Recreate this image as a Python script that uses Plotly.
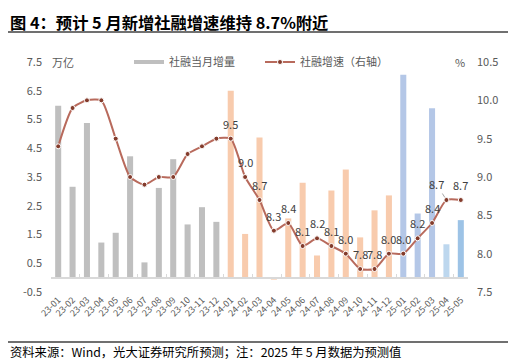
import plotly.graph_objects as go

months = ["23-01","23-02","23-03","23-04","23-05","23-06","23-07","23-08","23-09","23-10","23-11","23-12",
          "24-01","24-02","24-03","24-04","24-05","24-06","24-07","24-08","24-09","24-10","24-11","24-12",
          "25-01","25-02","25-03","25-04","25-05"]
increment = [5.98, 3.16, 5.38, 1.22, 1.56, 4.22, 0.53, 3.12, 4.12, 1.85, 2.45, 1.94,
             6.50, 1.52, 4.87, -0.07, 2.06, 3.30, 0.77, 3.03, 3.76, 1.40, 2.34, 2.86,
             7.06, 2.23, 5.89, 1.16, 2.00]
growth = [9.4, 9.9, 10.0, 10.0, 9.5, 9.0, 8.9, 9.0, 9.0, 9.3, 9.4, 9.5,
          9.5, 9.0, 8.7, 8.3, 8.4, 8.1, 8.2, 8.1, 8.0, 7.8, 7.8, 8.0,
          8.0, 8.2, 8.4, 8.7, 8.7]
label_start = 12

bar_colors = (["#BFBFBF"] * 12 + ["#F8CBAD"] * 12 +
              ["#B4C7E7", "#B4C7E7", "#B4C7E7", "#BDD7EE", "#9DC3E6"])

FONT = "Noto Sans CJK SC"
GRAY = "#595959"
OFF = 8  # page body margin offset
W, H = 516 - OFF, 364 - OFF
ml, mr, mt, mb = 51 - OFF, 48, 62 - OFF, 72
PW, PH = W - ml - mr, H - mt - mb


def px(x):
    return (x - OFF - ml) / PW


def py(y):
    return (H - mb - (y - OFF)) / PH


fig = go.Figure()
fig.add_trace(go.Bar(x=months, y=increment, name="社融当月增量", showlegend=False,
                     marker=dict(color=bar_colors, line=dict(width=0)),
                     xaxis="x", yaxis="y"))
fig.add_trace(go.Scatter(x=[None], y=[None], name="社融当月增量", mode="lines",
                         line=dict(color="#BFBFBF", width=4), xaxis="x", yaxis="y",
                         showlegend=True))
fig.add_trace(go.Scatter(x=months, y=growth, name="社融增速（右轴）", mode="lines+markers",
                         line=dict(color="#B86A5C", width=2, shape="spline", smoothing=0.6),
                         marker=dict(color="#843C2C", size=5, line=dict(color="white", width=1)),
                         xaxis="x2", yaxis="y2"))

ann = []
for i in range(label_start, len(months)):
    if i == 27:
        ann.append(dict(x=months[i], y=growth[i], xref="x2", yref="y2", text=f"{growth[i]:.1f}",
                        showarrow=True, arrowhead=0, arrowwidth=1, arrowcolor="#A6A6A6",
                        ax=-10, ay=-16, standoff=3,
                        font=dict(family=FONT, size=11, color="#404040")))
    else:
        ann.append(dict(x=months[i], y=growth[i], xref="x2", yref="y2", text=f"{growth[i]:.1f}",
                        showarrow=False, yshift=15,
                        font=dict(family=FONT, size=11, color="#404040")))

ann.append(dict(x=px(50), y=py(62), xref="paper", yref="paper", text="万亿", showarrow=False,
                xanchor="left", yanchor="middle", font=dict(family=FONT, size=11, color=GRAY)))
ann.append(dict(x=px(467), y=py(62), xref="paper", yref="paper", text="%", showarrow=False,
                xanchor="right", yanchor="middle", font=dict(family=FONT, size=11, color=GRAY)))
ann.append(dict(x=px(8), y=py(8), xref="paper", yref="paper",
                text="<b>图 4：预计 5 月新增社融增速维持 8.7%附近</b>", showarrow=False,
                xanchor="left", yanchor="top", font=dict(family=FONT, size=16.3, color="#000000")))
ann.append(dict(x=px(8), y=py(352), xref="paper", yref="paper",
                text="资料来源：Wind，光大证券研究所预测；注：2025 年 5 月数据为预测值", showarrow=False,
                xanchor="left", yanchor="middle", font=dict(family=FONT, size=12.3, color="#000000")))

shapes = [
    dict(type="line", xref="paper", yref="paper", x0=px(8), x1=px(510),
         y0=py(32), y1=py(32), line=dict(color="#404040", width=1.5)),
    dict(type="line", xref="paper", yref="paper", x0=px(8), x1=px(510),
         y0=py(342), y1=py(342), line=dict(color="#404040", width=1.5)),
]

fig.update_layout(
    width=W, height=H,
    margin=dict(l=ml, r=mr, t=mt, b=mb, pad=0, autoexpand=False),
    paper_bgcolor="white", plot_bgcolor="white",
    font=dict(family=FONT, color=GRAY),
    bargap=0.58,
    showlegend=True,
    legend=dict(orientation="h", x=px(129), y=py(62), xanchor="left", yanchor="middle",
                font=dict(family=FONT, size=11, color=GRAY), bgcolor="rgba(0,0,0,0)",
                entrywidth=86, entrywidthmode="pixels", itemwidth=30),
    xaxis=dict(type="category", categoryorder="array", categoryarray=months,
               range=[-0.5, len(months) - 0.5], tickangle=-45, showline=False, ticks="",
               tickfont=dict(family=FONT, size=9, color=GRAY), showgrid=False),
    xaxis2=dict(type="category", categoryorder="array", categoryarray=months,
                range=[-0.5, len(months) - 0.5], overlaying="x", anchor="free",
                position=0.5 / 8, showline=True, linecolor="#D9D9D9", linewidth=1.5,
                ticks="inside", tickson="boundaries", ticklen=3, tickcolor="#D9D9D9",
                showticklabels=False, showgrid=False),
    yaxis=dict(range=[-0.5, 7.5], tickvals=[-0.5, 0.5, 1.5, 2.5, 3.5, 4.5, 5.5, 6.5, 7.5],
               ticktext=["-0.5", "0.5", "1.5", "2.5", "3.5", "4.5", "5.5", "6.5", "7.5"],
               showgrid=False, zeroline=False, showline=False,
               tickfont=dict(family=FONT, size=11, color=GRAY), ticklabelstandoff=8),
    yaxis2=dict(range=[7.5, 10.5], tickvals=[7.5, 8.0, 8.5, 9.0, 9.5, 10.0, 10.5],
                ticktext=["7.5", "8.0", "8.5", "9.0", "9.5", "10.0", "10.5"],
                overlaying="y", side="right", anchor="x", showgrid=False, zeroline=False,
                showline=False, tickfont=dict(family=FONT, size=11, color=GRAY), ticklabelstandoff=8),
    annotations=ann, shapes=shapes,
)

fig.write_html("out.html")
